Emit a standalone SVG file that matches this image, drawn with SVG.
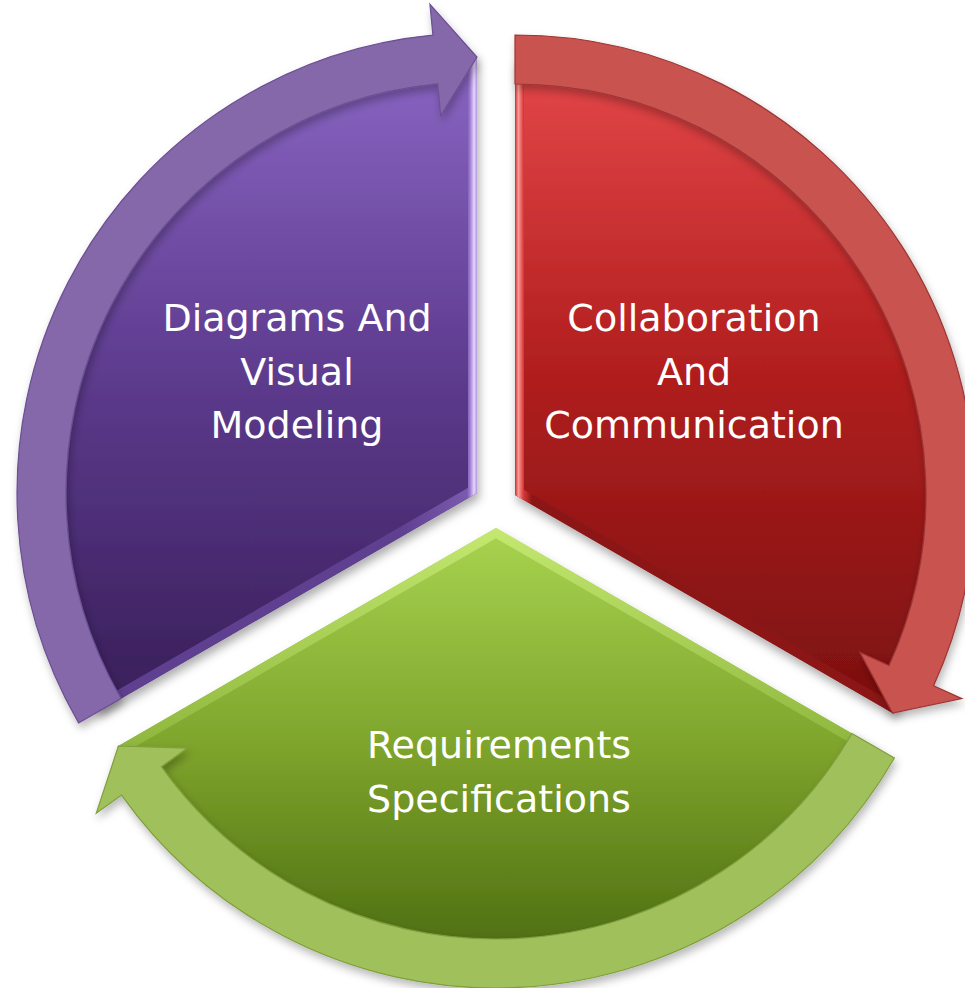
<svg xmlns="http://www.w3.org/2000/svg" xmlns:xlink="http://www.w3.org/1999/xlink" width="965" height="988" viewBox="0 0 965 988">
  <defs>
    <style>
      .lbl { font-family: "DejaVu Sans", "Liberation Sans", sans-serif; font-size: 38px; fill: #ffffff; text-anchor: middle; }
      .bev { fill: none; stroke-width: 18; }
      .band { stroke-width: 1.2; stroke-linejoin: miter; }
    </style>
    <filter id="sh" x="-15%" y="-15%" width="135%" height="135%">
      <feDropShadow dx="2" dy="6" stdDeviation="5" flood-color="#000000" flood-opacity="0.32"/>
    </filter>
    <filter id="shb" x="-15%" y="-15%" width="135%" height="135%">
      <feDropShadow dx="2" dy="5" stdDeviation="4" flood-color="#000000" flood-opacity="0.28"/>
    </filter>
    <path id="pSec" d="M477 493 L477 56 A437 437 0 0 0 98.55 711.5 Z"/>
    <path id="rSec" d="M515 495 L515 58 A437 437 0 0 1 893.45 713.5 Z"/>
    <path id="gSec" d="M496 528 L117.55 746.5 A437 437 0 0 0 874.45 746.5 Z"/>
    <clipPath id="pClip"><use xlink:href="#pSec"/></clipPath>
    <clipPath id="rClip"><use xlink:href="#rSec"/></clipPath>
    <clipPath id="gClip"><use xlink:href="#gSec"/></clipPath>
    <linearGradient id="pFill" gradientUnits="userSpaceOnUse" x1="0" y1="56" x2="0" y2="712">
      <stop offset="0" stop-color="#8a66c4"/>
      <stop offset="0.5" stop-color="#5c3a8c"/>
      <stop offset="1" stop-color="#381e58"/>
    </linearGradient>
    <linearGradient id="rFill" gradientUnits="userSpaceOnUse" x1="0" y1="58" x2="0" y2="714">
      <stop offset="0" stop-color="#e5484a"/>
      <stop offset="0.45" stop-color="#b42020"/>
      <stop offset="1" stop-color="#7a0f0f"/>
    </linearGradient>
    <linearGradient id="gFill" gradientUnits="userSpaceOnUse" x1="0" y1="528" x2="0" y2="965">
      <stop offset="0" stop-color="#a8d450"/>
      <stop offset="0.5" stop-color="#7ea42c"/>
      <stop offset="1" stop-color="#4a6a10"/>
    </linearGradient>
    <linearGradient id="pBev" gradientUnits="userSpaceOnUse" x1="400" y1="0" x2="478" y2="0">
      <stop offset="0" stop-color="#5f4090"/>
      <stop offset="0.86" stop-color="#7a5aae"/>
      <stop offset="0.9" stop-color="#a080d4"/>
      <stop offset="0.95" stop-color="#e6d6ff"/>
      <stop offset="1" stop-color="#a080d0"/>
    </linearGradient>
    <linearGradient id="rBev" gradientUnits="userSpaceOnUse" x1="515" y1="0" x2="600" y2="0">
      <stop offset="0" stop-color="#c03030"/>
      <stop offset="0.04" stop-color="#ff9a94"/>
      <stop offset="0.1" stop-color="#d83838"/>
      <stop offset="0.2" stop-color="#8c1616"/>
      <stop offset="1" stop-color="#8c1616"/>
    </linearGradient>
    <linearGradient id="gBev" gradientUnits="userSpaceOnUse" x1="0" y1="528" x2="0" y2="760">
      <stop offset="0" stop-color="#c4e870"/>
      <stop offset="1" stop-color="#8cb43a"/>
    </linearGradient>
  </defs>

  <g id="node-diagrams">
    <use xlink:href="#pSec" fill="url(#pFill)" filter="url(#sh)"/>
    <use xlink:href="#pSec" class="bev" stroke="url(#pBev)" clip-path="url(#pClip)"/>
    <text class="lbl" x="297" y="331">Diagrams And</text>
    <text class="lbl" x="297" y="385">Visual</text>
    <text class="lbl" x="297" y="438">Modeling</text>
  </g>

  <g id="node-collaboration">
    <use xlink:href="#rSec" fill="url(#rFill)" filter="url(#sh)"/>
    <use xlink:href="#rSec" class="bev" stroke="url(#rBev)" clip-path="url(#rClip)"/>
    <text class="lbl" x="694" y="331">Collaboration</text>
    <text class="lbl" x="694" y="385">And</text>
    <text class="lbl" x="694" y="438">Communication</text>
  </g>

  <g id="node-requirements">
    <use xlink:href="#gSec" fill="url(#gFill)" filter="url(#sh)"/>
    <use xlink:href="#gSec" class="bev" stroke="url(#gBev)" clip-path="url(#gClip)"/>
    <text class="lbl" x="499" y="758">Requirements</text>
    <text class="lbl" x="499" y="812">Specifications</text>
  </g>

  <g id="connectors" filter="url(#shb)">
    <path id="arrow-purple" class="band" fill="#8467a9" stroke="#6c4f93"
      d="M78.63 723 A460 460 0 0 1 432.91 35.12 L429.94 4.26 L477 57 L440.67 115.75 L437.61 83.89 A411 411 0 0 0 121.06 698.5 Z"/>
    <path id="arrow-red" class="band" fill="#c85250" stroke="#9c3634"
      d="M515 35 A460 460 0 0 1 933.58 685.76 L961.79 698.61 L892.59 713 L859.87 652.17 L888.99 665.44 A411 411 0 0 0 515 84 Z"/>
    <path id="arrow-green" class="band" fill="#a0c05c" stroke="#7f9f3c"
      d="M894.37 758 A460 460 0 0 1 121.51 795.12 L96.27 813.13 L118.41 746 L187.45 748.09 L161.4 766.67 A411 411 0 0 0 851.94 733.5 Z"/>
  </g>
</svg>
